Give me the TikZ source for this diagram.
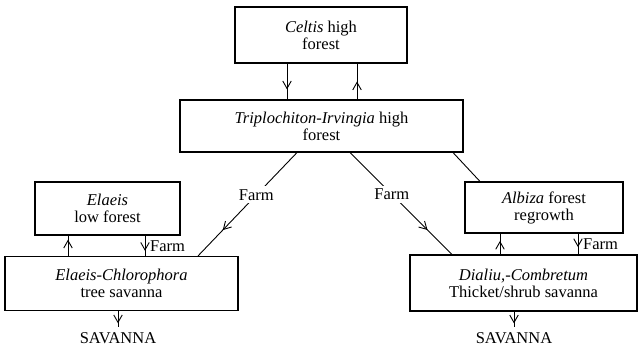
\documentclass[tikz,border=0pt]{standalone}
\usepackage{fontspec}
\setmainfont{Liberation Serif}
\usetikzlibrary{arrows.meta,decorations.markings}
\tikzset{
  box/.style={draw, line width=1.1pt, align=center, inner sep=2pt},
  lbl/.style={inner sep=1pt},
  conn/.style={line width=0.9pt},
  marrow/.style={postaction={decorate}, decoration={markings,
      mark=at position #1 with {\arrow{Straight Barb[length=7.5pt,width=8.5pt,line width=0.9pt]}}}},
  every node/.style={font=\fontsize{16.5}{17}\selectfont}
}
\begin{document}
\begin{tikzpicture}[x=1pt,y=-1pt]
\useasboundingbox (0,0) rectangle (640,347);
% boxes
\node[box, minimum width=172pt, minimum height=56pt] (celtis) at (321,35) {\textit{Celtis} high\\forest};
\node[box, minimum width=283pt, minimum height=52pt] (trip) at (321.5,126) {\textit{Triplochiton-Irvingia} high\\forest};
\node[box, minimum width=145pt, minimum height=53pt] (elaeis) at (107.5,208.5) {\textit{Elaeis}\\low forest};
\node[box, minimum width=233pt, minimum height=54pt] (elch) at (121.5,283.5) {\textit{Elaeis-Chlorophora}\\tree savanna};
\node[box, minimum width=158pt, minimum height=51pt] (albiza) at (544,207.5) {\textit{Albiza} forest\\regrowth};
\node[box, minimum width=227pt, minimum height=56pt] (dial) at (523.5,283) {\textit{Dialiu,-Combretum}\\Thicket/shrub savanna};
\node[lbl, outer sep=4pt] (sav1) at (118,338) {SAVANNA};
\node[lbl, outer sep=4pt] (sav2) at (514,338) {SAVANNA};
\node[lbl, anchor=west] (farm3) at (149,246) {Farm};
\node[lbl, anchor=west] (farm4) at (582,244) {Farm};
% Celtis <-> Triplochiton
\draw[conn, marrow=0.72] ([xshift=-34pt]celtis.south) -- ([xshift=-34pt]celtis.south |- trip.north);
\draw[conn, marrow=0.5] ([xshift=36pt]celtis.south |- trip.north) -- ([xshift=36pt]celtis.south);
% diagonals
\draw[conn, marrow=0.75] ([xshift=-24.5pt]trip.south) -- ([xshift=76.5pt]elch.north)
  node[pos=0.41, fill=white, inner sep=3pt] (farm1) {Farm};
\draw[conn, marrow=0.76] ([xshift=28.5pt]trip.south) -- ([xshift=-71.5pt]dial.north)
  node[pos=0.41, fill=white, inner sep=3pt] (farm2) {Farm};
\draw[conn] ([xshift=131.5pt]trip.south) -- ([xshift=-64pt]albiza.north);
% Elaeis <-> Elaeis-Chlorophora
\draw[conn, marrow=0.8] ([xshift=-53.5pt]elch.north) -- ([xshift=-53.5pt]elch.north |- elaeis.south);
\draw[conn, marrow=0.75] ([xshift=37.5pt]elaeis.south) -- ([xshift=37.5pt]elaeis.south |- elch.north);
% Albiza <-> Dialium
\draw[conn, marrow=0.65] ([xshift=-23.5pt]dial.north) -- ([xshift=-23.5pt]dial.north |- albiza.south);
\draw[conn, marrow=0.65] ([xshift=34pt]albiza.south) -- ([xshift=34pt]albiza.south |- dial.north);
% to savanna
\draw[conn, marrow=0.75] (elch.south -| sav1) -- (sav1.north);
\draw[conn, marrow=0.75] (dial.south -| sav2) -- (sav2.north);
\end{tikzpicture}
\end{document}
